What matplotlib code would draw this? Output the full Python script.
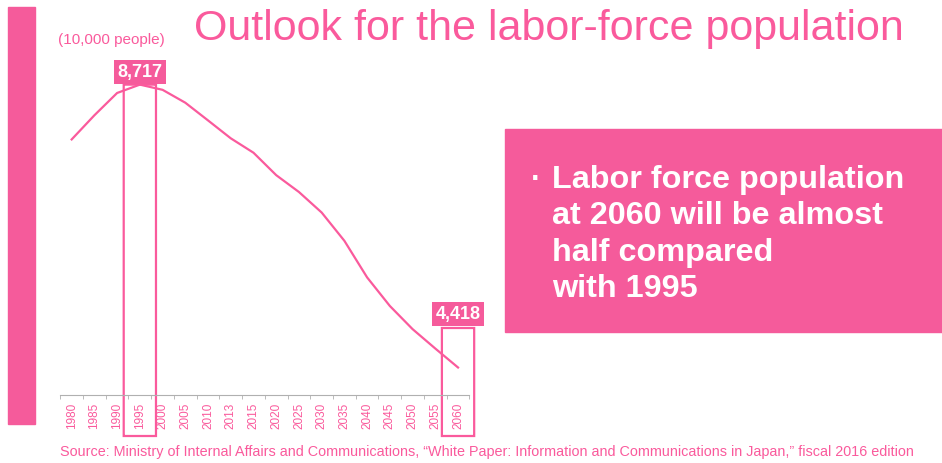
import numpy as np
import matplotlib.pyplot as plt
from matplotlib.patches import FancyBboxPatch, Rectangle

plt.rcParams['font.family'] = ['Liberation Sans', 'DejaVu Sans']

years = ['1980', '1985', '1990', '1995', '2000', '2005', '2010', '2013', '2015',
         '2020', '2025', '2030', '2035', '2040', '2045', '2050', '2055', '2060']
labor = [7884, 8251, 8590, 8717, 8638, 8442, 8173, 7901, 7682,
         7341, 7085, 6773, 6343, 5787, 5353, 5001, 4706, 4418]
highlight = ['1995', '2060']
message = ['Labor force population', 'at 2060 will be almost',
           'half compared', 'with 1995']

pink = '#FA5A9C'
box_pink = '#F55B9B'

fig = plt.figure(figsize=(9.42, 4.64), dpi=100)
W, H = 942, 464

def fx(px):
    return px / W

def fy(py):
    return 1 - py / H

# left bar
fig.patches.append(Rectangle((fx(8), fy(425)), fx(27), (425 - 8) / H,
                             transform=fig.transFigure, color=box_pink, zorder=0))

# right message box
fig.patches.append(Rectangle((fx(505), fy(333)), fx(437), (333 - 130) / H,
                             transform=fig.transFigure, color=box_pink, zorder=0))
fig.text(fx(531), fy(188), '\u00b7', color='white', fontsize=22, fontweight='bold',
         va='baseline', ha='left')
for i, line in enumerate(message):
    fig.text(fx(552), fy(188 + i * 36.3), line, color='white', fontsize=23.3,
             fontweight='bold', va='baseline', ha='left')

fig.text(fx(194), fy(40), 'Outlook for the labor-force population', color=pink,
         fontsize=31, va='baseline', ha='left')
fig.text(fx(58), fy(40), '(10,000 people)', color=pink, fontsize=11,
         va='center', ha='left')
fig.text(fx(60), fy(452), 'Source: Ministry of Internal Affairs and Communications, '
         '\u201cWhite Paper: Information and Communications in Japan,\u201d fiscal 2016 edition',
         color=pink, fontsize=10.4, va='center', ha='left')

ax = fig.add_axes([fx(60.3), 1 - 396 / H, (469.4 - 60.3) / W, (396 - 50) / H])
ax.patch.set_alpha(0)
x = np.arange(len(years))
ax.plot(x, labor, color=pink, lw=1.6, zorder=3)
ax.set_xlim(-0.5, len(years) - 0.5)
ax.set_ylim(4000, 4000 + 346 / 0.0658)

for s in ['top', 'right', 'left']:
    ax.spines[s].set_visible(False)
ax.spines['bottom'].set_color('#b0b0b0')
ax.set_yticks([])
ax.set_xticks(x)
ax.set_xticklabels(years, rotation=90, color=pink, fontsize=8.5)
ax.tick_params(axis='x', which='major', length=0, pad=5)
ax.set_xticks(np.arange(-0.5, len(years)), minor=True)
ax.tick_params(axis='x', which='minor', length=3, color='#b0b0b0')

# highlight boxes and value labels
ybot = 4000 - 41 / 0.0658
box_top = {'1995': labor[years.index('1995')], '2060': 4000 + 67 / 0.0658}
label_off = {'1995': 13, '2060': 14}
for yr in highlight:
    i = years.index(yr)
    half = 0.71
    top = box_top[yr]
    box = FancyBboxPatch((i - half, ybot), 2 * half, top - ybot,
                         boxstyle='round,pad=0,rounding_size=0.2',
                         mutation_aspect=0.0658 ** -1 / 22.75,
                         fc='none', ec=pink, lw=1.6, clip_on=False, zorder=2)
    ax.add_patch(box)
    ax.annotate(f'{labor[i]:,}', (i, top), xytext=(0, label_off[yr]),
                textcoords='offset pixels', ha='center', va='center', color='white',
                fontsize=13, fontweight='bold', zorder=5,
                bbox=dict(boxstyle='square,pad=0.2', fc=box_pink, ec='none'),
                annotation_clip=False)

fig.savefig('out.png', dpi=100)
